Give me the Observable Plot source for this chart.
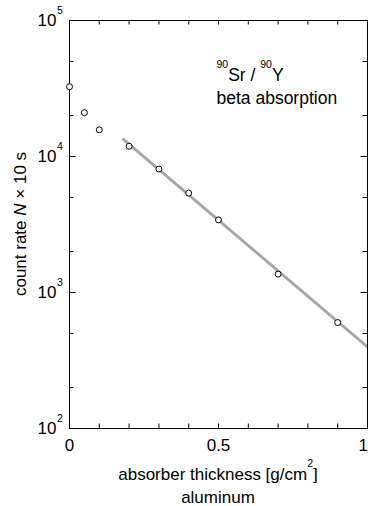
<!DOCTYPE html>
<html>
<head>
<meta charset="utf-8">
<script src="https://cdn.jsdelivr.net/npm/d3@7"></script>
<script src="https://cdn.jsdelivr.net/npm/@observablehq/plot@0.6"></script>
<style>
  html, body { margin: 0; padding: 0; background: #fff; overflow: hidden; }
</style>
</head>
<body>
<div id="chart"></div>
<script>
// ---- data ----
const thickness = [0, 0.05, 0.1, 0.2, 0.3, 0.4, 0.5, 0.7, 0.9];
const counts = [32600, 21000, 15700, 11900, 8080, 5380, 3420, 1365, 601];
const fitThickness = [0.181, 1.0];
const fitCounts = [13360, 398];
const xTicks = [0, 0.1, 0.2, 0.3, 0.4, 0.5, 0.6, 0.7, 0.8, 0.9, 1.0];
const xTickLabels = [0, 0.5];
const xTickLabelsRight = [1];
const yMajor = [100, 1000, 10000, 100000];
const yExponents = ["2", "3", "4", "5"];
const yMinor = [200, 500, 2000, 5000, 20000, 50000];

const FONT = "'Liberation Sans', Arial, Helvetica, sans-serif";
const FS = 17;     // main text size
const SUP = 10.5;  // superscript size
const W = 368, H = 506;
const mL = 69, mR = 1, mT = 20, mB = 78;
const fw = W - mL - mR;
const fh = H - mT - mB;
const minorLen = 4.5, majorLen = 6.5;

const points = thickness.map((x, i) => ({x, y: counts[i]}));
const fit = fitThickness.map((x, i) => ({x, y: fitCounts[i]}));

const plot = Plot.plot({
  width: W, height: H,
  marginLeft: mL, marginRight: mR, marginTop: mT, marginBottom: mB,
  style: {fontFamily: FONT, fontSize: FS + "px", background: "white", color: "black", overflow: "visible"},
  x: {domain: [0, 1], axis: null},
  y: {type: "log", domain: [100, 100000], axis: null},
  marks: [
    Plot.line(fit, {x: "x", y: "y", stroke: "#a6a6a6", strokeWidth: 2.8}),
    Plot.tickX(xTicks, {x: d => d, insetTop: fh - minorLen, stroke: "black"}),
    Plot.tickX(xTicks, {x: d => d, insetBottom: fh - minorLen, stroke: "black"}),
    Plot.tickY(yMinor, {y: d => d, insetRight: fw - minorLen, stroke: "black"}),
    Plot.tickY(yMinor, {y: d => d, insetLeft: fw - minorLen, stroke: "black"}),
    Plot.tickY(yMajor, {y: d => d, insetRight: fw - majorLen, stroke: "black"}),
    Plot.tickY(yMajor, {y: d => d, insetLeft: fw - majorLen, stroke: "black"}),
    Plot.frame({stroke: "black"}),
    Plot.dot(points, {x: "x", y: "y", r: 3, stroke: "black", fill: "white", strokeWidth: 1}),
    Plot.text(xTickLabels, {
      x: d => d, text: d => String(d), frameAnchor: "bottom", lineAnchor: "top",
      dy: 10, fontSize: FS, fill: "black"
    }),
    Plot.text(xTickLabelsRight, {
      x: d => d, text: d => String(d), frameAnchor: "bottom", lineAnchor: "top",
      textAnchor: "end", dx: 0.5, dy: 10, fontSize: FS, fill: "black"
    }),
    Plot.text(yMajor, {y: d => d, text: () => "10", frameAnchor: "left", textAnchor: "end", dx: -13, fontSize: FS, fill: "black"}),
    Plot.text(yMajor, {y: d => d, text: (d, i) => yExponents[i], frameAnchor: "left", textAnchor: "start", lineAnchor: "bottom", dx: -12.5, dy: -7, fontSize: SUP, fill: "black"})
  ]
});

document.getElementById("chart").appendChild(plot);

// ---- titles and annotation with superscripts / italics ----
const svg = d3.select(plot);
const g = svg.append("g").attr("font-family", FONT).attr("fill", "black");

// x-axis title
const xt = g.append("text")
  .attr("x", mL + fw / 2).attr("y", mT + fh + 52)
  .attr("text-anchor", "middle").attr("font-size", FS);
xt.append("tspan").text("absorber thickness [g/cm");
xt.append("tspan").attr("font-size", SUP).attr("dy", -13).text("2");
xt.append("tspan").attr("dy", 13).text("]");

g.append("text")
  .attr("x", mL + fw / 2).attr("y", mT + fh + 75)
  .attr("text-anchor", "middle").attr("font-size", FS)
  .text("aluminum");

// y-axis title
const yt = g.append("text")
  .attr("transform", `translate(25.5,${mT + fh / 2}) rotate(-90)`)
  .attr("text-anchor", "middle").attr("font-size", FS);
yt.append("tspan").text("count rate ");
yt.append("tspan").attr("font-style", "italic").text("N");
yt.append("tspan").text(" \u00d7 10 s");

// annotation
const sx = plot.scale("x"), sy = plot.scale("y");
const ax = sx.apply(0.495), ay = sy.apply(35600);
const AFS = 17.5;
const a1 = g.append("text").attr("x", ax).attr("y", ay).attr("text-anchor", "start").attr("font-size", AFS);
a1.append("tspan").attr("font-size", SUP).attr("dy", -13.5).text("90");
a1.append("tspan").attr("dy", 13.5).text("Sr / ");
a1.append("tspan").attr("font-size", SUP).attr("dy", -13.5).text("90");
a1.append("tspan").attr("dy", 13.5).text("Y");
g.append("text").attr("x", ax).attr("y", ay + 22.5).attr("text-anchor", "start").attr("font-size", AFS).text("beta absorption");
</script>
</body>
</html>
